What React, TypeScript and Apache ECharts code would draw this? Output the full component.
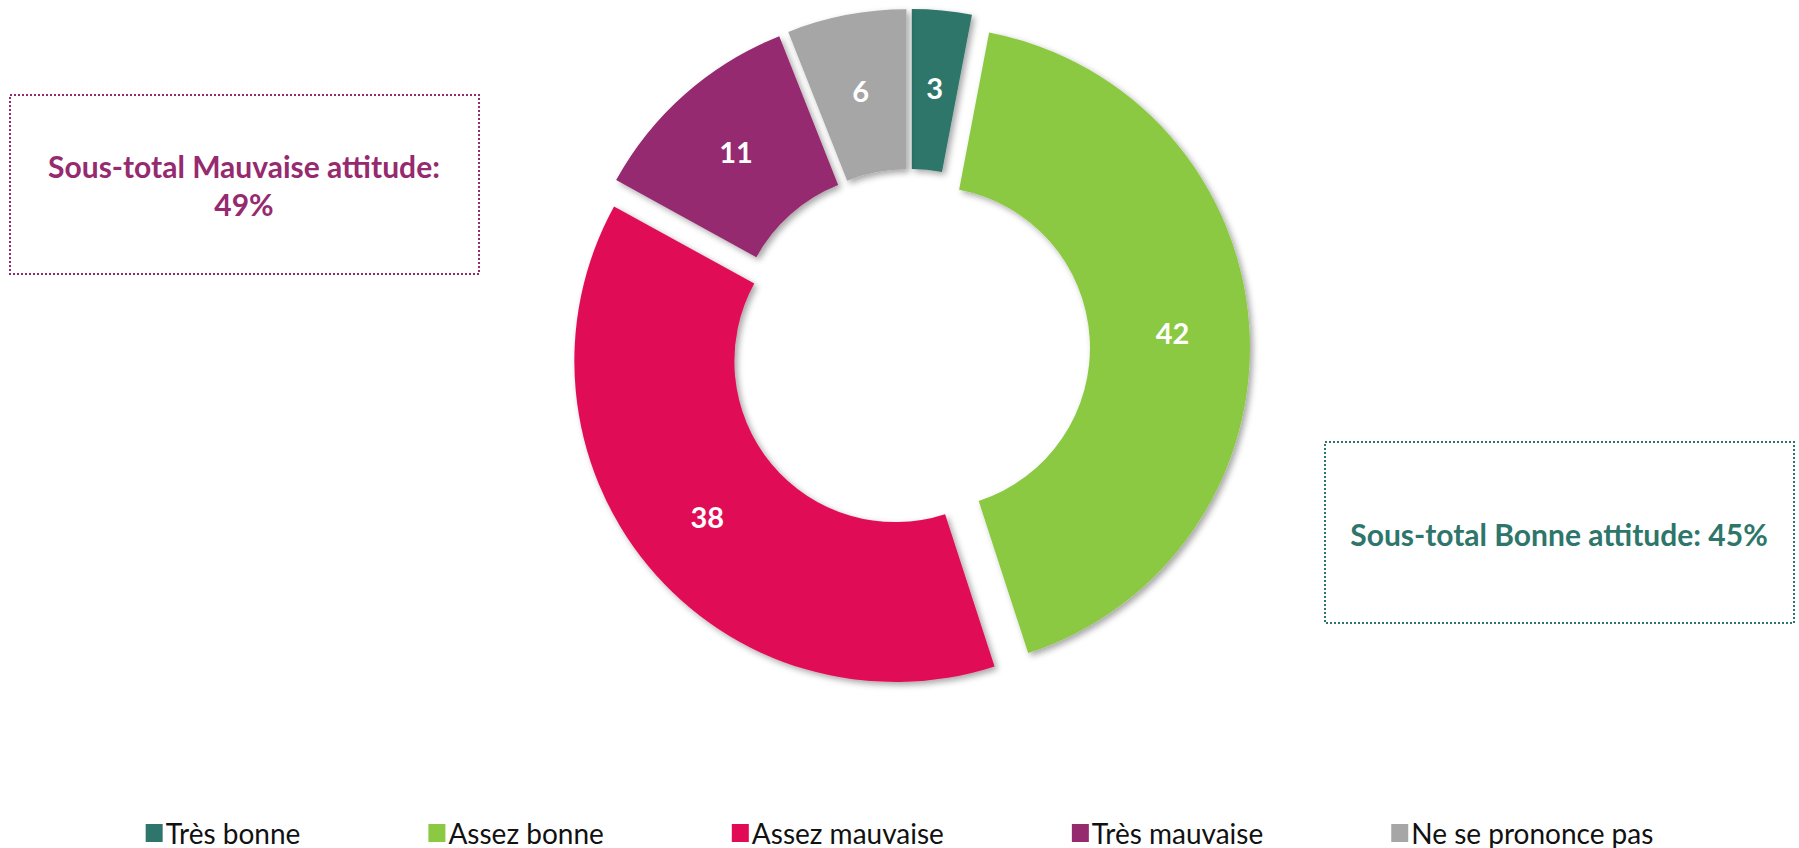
import React, { useEffect, useRef } from "react";
import * as echarts from "echarts";

const categories = ["Très bonne", "Assez bonne", "Assez mauvaise", "Très mauvaise", "Ne se prononce pas"];
const values = [3, 42, 38, 11, 6];
const sliceColors = ["#2E766B", "#8BC942", "#E00A57", "#962A6F", "#A6A6A6"];
const badLabel = "Sous-total Mauvaise attitude:\n49%";
const goodLabel = "Sous-total Bonne attitude: 45%";

const FONT = "Lato, 'Open Sans', sans-serif";

export default function App() {
  const ref = useRef<HTMLDivElement>(null);
  useEffect(() => {
    if (!ref.current) return;
    const chart = echarts.init(ref.current, null, { renderer: "svg" });
    const data = categories.map((name, i) => ({
      name,
      value: values[i],
      selected: true,
      itemStyle: { color: sliceColors[i] },
    }));
    chart.setOption({
      animation: false,
      backgroundColor: "#ffffff",
      legend: {
        data: categories,
        top: 818,
        padding: 0,
        left: "center",
        icon: "rect",
        itemWidth: 17,
        itemHeight: 18,
        itemGap: 128,
        selectedMode: false,
        textStyle: { fontFamily: FONT, fontSize: 28, lineHeight: 30, color: "#111", padding: [0, 0, 0, -2] },
      },
      series: [
        {
          type: "pie",
          center: [910, 349],
          radius: [161, 321],
          startAngle: 90,
          clockwise: true,
          selectedMode: "multiple",
          selectedOffset: 19,
          avoidLabelOverlap: false,
          emphasis: { disabled: true },
          label: {
            show: true,
            position: "inside",
            formatter: "{c}",
            color: "#ffffff",
            fontFamily: FONT,
            fontWeight: "bold",
            fontSize: 29,
          },
          labelLine: { show: false },
          itemStyle: {
            shadowBlur: 6,
            shadowColor: "rgba(0,0,0,0.35)",
            shadowOffsetX: 3,
            shadowOffsetY: 3,
          },
          data,
        },
      ],
      graphic: [
        {
          type: "rect",
          shape: { x: 10, y: 95, width: 469, height: 179 },
          style: { fill: "none", stroke: "#962A6F", lineWidth: 2, lineDash: [2, 2] },
        },
        {
          type: "text",
          x: 244,
          y: 185,
          style: {
            text: badLabel,
            fill: "#962A6F",
            font: `bold 30px ${FONT}`,
            align: "center",
            verticalAlign: "middle",
            lineHeight: 38,
          },
        },
        {
          type: "rect",
          shape: { x: 1325, y: 442, width: 469, height: 181 },
          style: { fill: "none", stroke: "#2E766B", lineWidth: 2, lineDash: [2, 2] },
        },
        {
          type: "text",
          x: 1559,
          y: 534,
          style: {
            text: goodLabel,
            fill: "#2E766B",
            font: `bold 30px ${FONT}`,
            align: "center",
            verticalAlign: "middle",
          },
        },
      ],
    });
    return () => chart.dispose();
  }, []);
  return (
    <div
      ref={ref}
      style={{ position: "fixed", left: 0, top: 0, width: 1799, height: 848 }}
    />
  );
}
